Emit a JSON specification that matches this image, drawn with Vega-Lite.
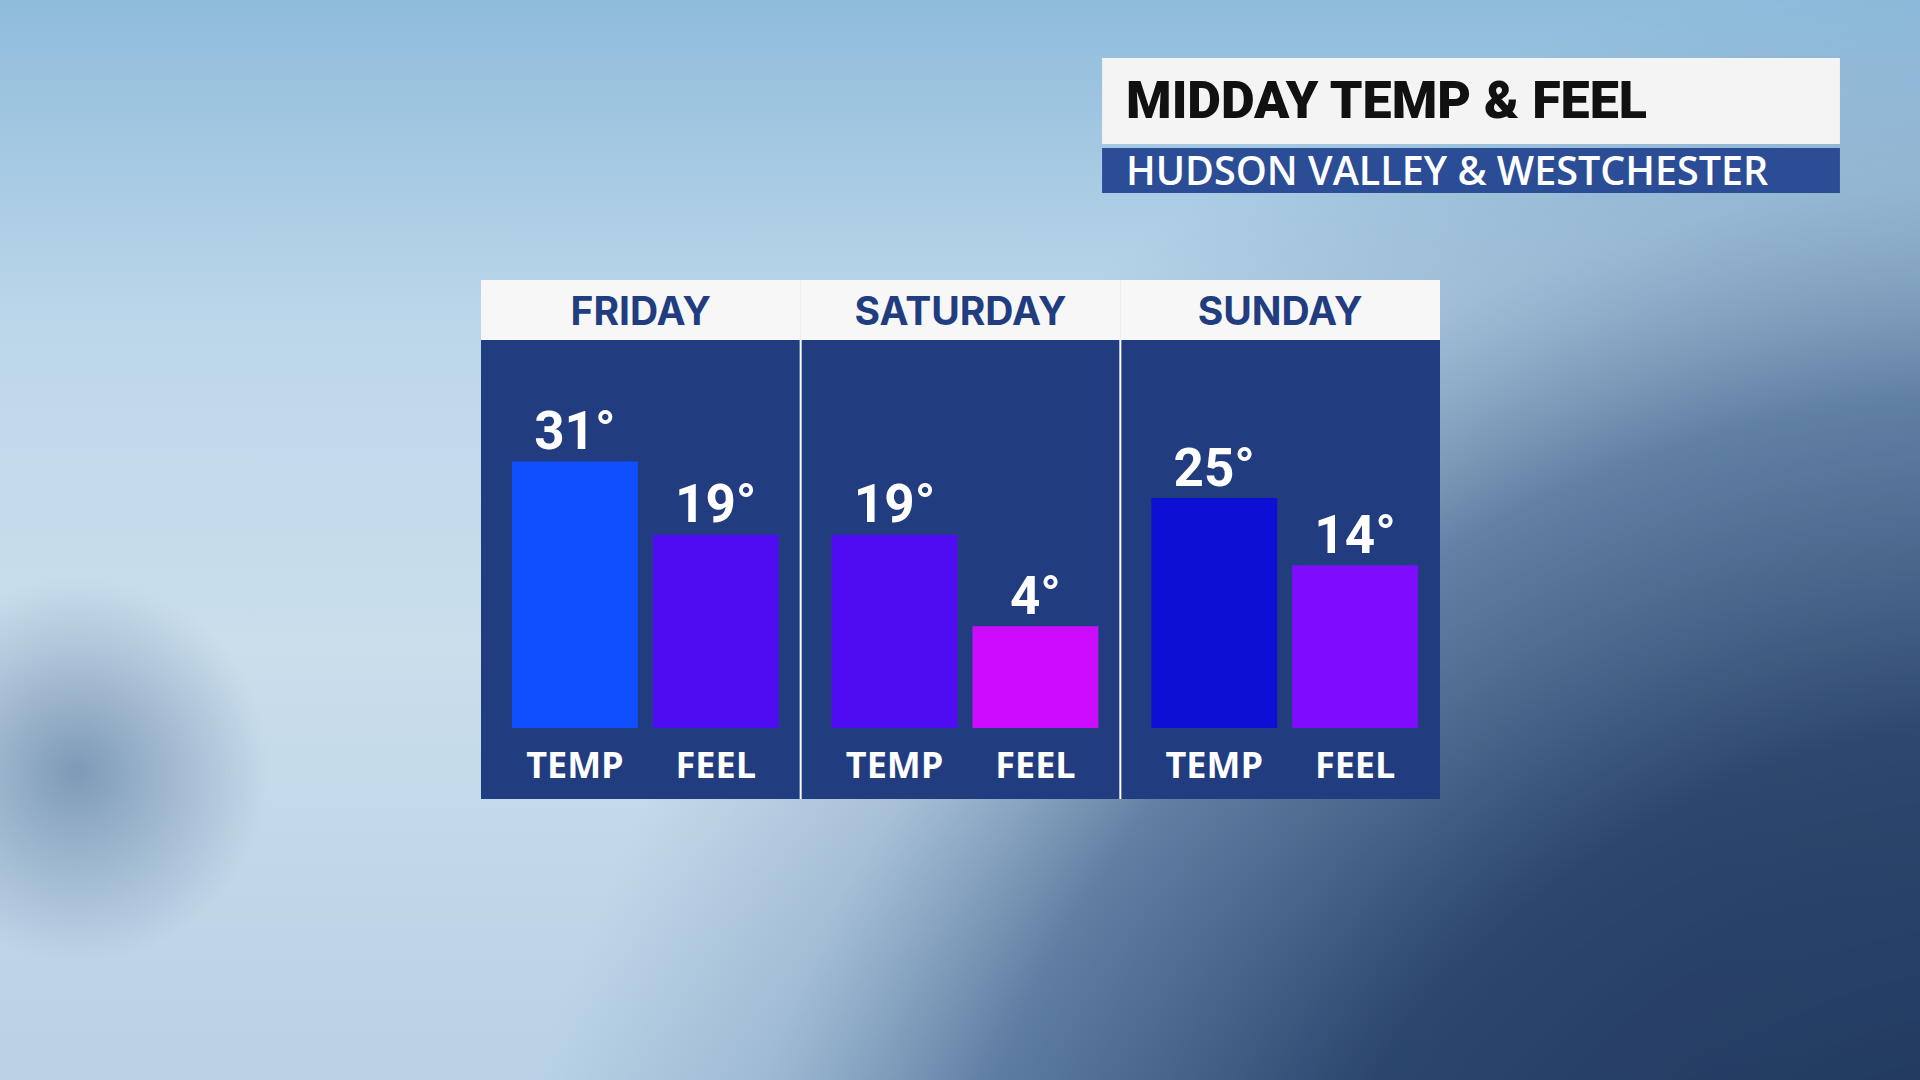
{
  "$schema": "https://vega.github.io/schema/vega-lite/v6.json",
  "width": 1920,
  "height": 1080,
  "padding": 0,
  "autosize": {"type": "none"},
  "background": "#b5d2e6",
  "config": {"view": {"stroke": null}},
  "datasets": {
    "temps": [
      {"day": "FRIDAY", "series": "TEMP", "value": 31},
      {"day": "FRIDAY", "series": "FEEL", "value": 19},
      {"day": "SATURDAY", "series": "TEMP", "value": 19},
      {"day": "SATURDAY", "series": "FEEL", "value": 4},
      {"day": "SUNDAY", "series": "TEMP", "value": 25},
      {"day": "SUNDAY", "series": "FEEL", "value": 14}
    ],
    "days": [{"day": "FRIDAY"}, {"day": "SATURDAY"}, {"day": "SUNDAY"}],
    "titles": [{"title": "MIDDAY TEMP & FEEL", "subtitle": "HUDSON VALLEY & WESTCHESTER"}]
  },
  "layer": [
    {
      "data": {"values": [{}]},
      "mark": {"type": "rect", "fill": {"gradient": "linear", "x1": 0.5, "y1": 0, "x2": 0.5, "y2": 1,
        "stops": [
          {"offset": 0, "color": "#8fbcdb"},
          {"offset": 0.3, "color": "#bcd7ea"},
          {"offset": 0.6, "color": "#cadeec"},
          {"offset": 1, "color": "#b8d1e5"}
        ]}},
      "encoding": {}
    },
    {
      "data": {"values": [{}]},
      "mark": {"type": "rect", "fill": {"gradient": "radial", "x1": 1.05, "y1": 1.0, "r1": 0, "x2": 1.05, "y2": 1.0, "r2": 0.8,
        "stops": [
          {"offset": 0, "color": "rgba(16,36,72,0.95)"},
          {"offset": 0.5, "color": "rgba(24,50,92,0.88)"},
          {"offset": 0.72, "color": "rgba(45,80,125,0.65)"},
          {"offset": 0.86, "color": "rgba(70,105,150,0.22)"},
          {"offset": 1, "color": "rgba(70,105,150,0)"}
        ]}},
      "encoding": {}
    },
    {
      "data": {"values": [{}]},
      "mark": {"type": "rect", "fill": {"gradient": "radial", "x1": 0.04, "y1": 0.62, "r1": 0, "x2": 0.04, "y2": 0.62, "r2": 0.1,
        "stops": [
          {"offset": 0, "color": "rgba(40,75,120,0.45)"},
          {"offset": 1, "color": "rgba(40,75,120,0)"}
        ]}},
      "encoding": {}
    },
    {
      "data": {"name": "temps"},
      "encoding": {
        "x": {"field": "day", "type": "nominal", "axis": null,
          "scale": {"domain": ["FRIDAY", "SATURDAY", "SUNDAY"], "paddingInner": 0, "paddingOuter": 0, "range": [481, 1440]}},
        "y": {"type": "quantitative", "axis": null,
          "scale": {"domain": [-70.405, 106.644], "nice": false, "zero": false}}
      },
      "layer": [
        {
          "data": {"name": "days"},
          "mark": {"type": "rect", "fill": "#f7f7f7"},
          "encoding": {
            "x": {"field": "day", "type": "nominal"},
            "y": {"datum": 60.74},
            "y2": {"datum": 50.91}
          }
        },
        {
          "data": {"name": "days"},
          "mark": {"type": "rect", "fill": "#213d80"},
          "encoding": {
            "x": {"field": "day", "type": "nominal"},
            "y": {"datum": 50.91},
            "y2": {"datum": -24.34}
          }
        },
        {
          "data": {"name": "days"},
          "transform": [{"filter": "datum.day !== 'FRIDAY'"}],
          "mark": {"type": "rule", "color": "#ffffff", "strokeWidth": 2},
          "encoding": {
            "x": {"field": "day", "type": "nominal", "bandPosition": 0},
            "y": {"datum": 50.91},
            "y2": {"datum": -24.34}
          }
        },
        {
          "data": {"name": "days"},
          "mark": {"type": "text", "font": "Inter", "fontWeight": 700, "fontSize": 39, "color": "#213d80", "baseline": "alphabetic", "align": "center"},
          "encoding": {
            "x": {"field": "day", "type": "nominal"},
            "y": {"datum": 53.37},
            "text": {"field": "day"}
          }
        },
        {
          "mark": {"type": "bar"},
          "encoding": {
            "xOffset": {"field": "series", "type": "nominal",
              "scale": {"domain": ["TEMP", "FEEL"], "paddingInner": 0.1064, "paddingOuter": 0.188, "align": 0.585}},
            "y": {"field": "value", "type": "quantitative"},
            "y2": {"datum": -12.7},
            "color": {"field": "value", "type": "ordinal", "legend": null,
              "scale": {"domain": [31, 25, 19, 14, 4], "range": ["#0f4fff", "#0e0fd4", "#4f0cf0", "#7f0cff", "#cc0cff"]}}
          }
        },
        {
          "transform": [{"calculate": "datum.value + '°'", "as": "label"}],
          "mark": {"type": "text", "font": "Roboto", "fontWeight": 700, "fontSize": 53, "color": "#ffffff", "baseline": "alphabetic", "align": "center", "dy": -12.5},
          "encoding": {
            "xOffset": {"field": "series", "type": "nominal",
              "scale": {"domain": ["TEMP", "FEEL"], "paddingInner": 0.1064, "paddingOuter": 0.188, "align": 0.585}},
            "y": {"field": "value", "type": "quantitative"},
            "text": {"field": "label"}
          }
        },
        {
          "mark": {"type": "text", "font": "Open Sans", "fontWeight": 700, "fontSize": 36, "color": "#ffffff", "baseline": "alphabetic", "align": "center"},
          "encoding": {
            "xOffset": {"field": "series", "type": "nominal",
              "scale": {"domain": ["TEMP", "FEEL"], "paddingInner": 0.1064, "paddingOuter": 0.188, "align": 0.585}},
            "y": {"datum": -20.9},
            "text": {"field": "series"}
          }
        }
      ]
    },
    {
      "data": {"name": "titles"},
      "encoding": {
        "x": {"type": "quantitative", "axis": null, "scale": {"domain": [0, 1], "nice": false, "zero": false}},
        "y": {"type": "quantitative", "axis": null, "scale": {"domain": [0, 1], "nice": false, "zero": false, "reverse": true}}
      },
      "layer": [
        {
          "mark": {"type": "rect", "fill": "#f4f4f4"},
          "encoding": {"x": {"datum": 0.574}, "x2": {"datum": 0.9583}, "y": {"datum": 0.0537}, "y2": {"datum": 0.1333}}
        },
        {
          "mark": {"type": "rect", "fill": "#2b4d96"},
          "encoding": {"x": {"datum": 0.574}, "x2": {"datum": 0.9583}, "y": {"datum": 0.137}, "y2": {"datum": 0.1787}}
        },
        {
          "mark": {"type": "text", "font": "Roboto", "fontWeight": 900, "fontSize": 52, "color": "#111111", "baseline": "alphabetic", "align": "left"},
          "encoding": {"x": {"datum": 0.5865}, "y": {"datum": 0.1093}, "text": {"field": "title"}}
        },
        {
          "mark": {"type": "text", "font": "Open Sans", "fontWeight": 600, "fontSize": 39.5, "color": "#ffffff", "baseline": "alphabetic", "align": "left"},
          "encoding": {"x": {"datum": 0.5865}, "y": {"datum": 0.1713}, "text": {"field": "subtitle"}}
        }
      ]
    }
  ],
  "resolve": {"scale": {"x": "independent", "y": "independent"}}
}
